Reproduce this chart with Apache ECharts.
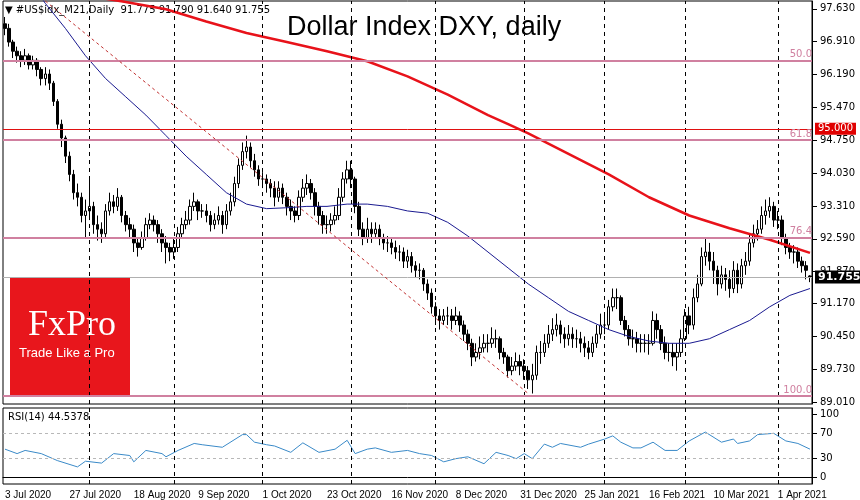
<!DOCTYPE html>
<html>
<head>
<meta charset="utf-8">
<title>DXY</title>
<script src="https://cdn.jsdelivr.net/npm/echarts@6/dist/echarts.min.js"></script>
<style>
  body { margin: 0; background: #fff; }
  #main { width: 860px; height: 500px; }
</style>
</head>
<body>
<div id="main"></div>
<script>
// daily closes, 3 Jul 2020 .. 14 Apr 2021
var closes = [
  97.2,96.9,96.7,96.6,96.5,96.6,96.4,96.5,96.3,96.1,
  96.2,96.0,95.6,95.1,94.8,94.4,94.0,93.6,93.5,93.1,
  93.2,93.3,92.9,92.8,92.7,93.2,93.4,93.3,93.5,93.1,
  92.9,92.8,92.5,92.4,92.6,92.9,93.0,92.9,92.7,92.5,
  92.4,92.3,92.4,92.7,92.9,93.0,93.3,93.4,93.2,93.2,
  93.1,92.9,93.0,93.1,92.9,93.2,93.4,93.8,94.2,94.5,
  94.6,94.3,94.1,93.9,93.9,93.8,93.7,93.5,93.7,93.5,
  93.3,93.2,93.1,93.5,93.7,93.8,93.6,93.3,93.1,92.9,
  92.9,93.0,93.1,93.5,93.9,94.1,93.9,93.3,92.8,92.6,
  92.8,92.7,92.8,92.6,92.5,92.5,92.4,92.3,92.3,92.1,
  92.2,92.0,91.9,91.9,91.6,91.4,91.1,90.9,90.8,90.9,
  90.9,90.8,90.9,90.7,90.5,90.3,90.0,90.1,90.2,90.3,
  90.3,90.4,90.4,90.1,90.0,89.7,89.8,89.9,89.8,89.7,
  89.5,89.6,90.1,90.1,90.3,90.5,90.6,90.7,90.5,90.4,
  90.5,90.4,90.4,90.3,90.2,90.1,90.3,90.5,90.7,90.7,
  91.1,91.3,91.3,90.8,90.6,90.4,90.4,90.3,90.3,90.3,
  90.3,90.8,90.6,90.3,90.1,90.1,90.0,90.1,90.4,90.9,
  90.7,91.3,91.6,92.2,92.3,92.1,91.9,91.6,91.8,91.7,
  91.5,91.9,91.6,92.0,92.1,92.5,92.7,92.8,93.1,93.2,
  93.3,93.0,93.0,92.6,92.4,92.3,92.3,92.1,92.0,91.9,
  91.755
];
var highs = [
  97.45,97.3,96.95,96.8,96.7,96.75,96.65,96.6,96.55,96.35,
  96.35,96.3,96.05,95.65,95.2,94.85,94.5,94.1,93.8,93.6,
  93.45,93.9,93.4,93.1,92.95,93.35,93.6,93.55,93.7,93.55,
  93.2,93.05,92.9,92.6,92.75,93.05,93.15,93.1,93.0,92.8,
  92.65,92.5,92.6,92.85,93.05,93.2,93.45,93.6,93.45,93.35,
  93.35,93.2,93.15,93.3,93.2,93.35,93.6,93.95,94.35,94.7,
  94.85,94.7,94.45,94.2,94.05,94.0,93.9,93.85,93.85,93.8,
  93.6,93.45,93.3,93.65,93.9,94.0,93.9,93.7,93.4,93.2,
  93.1,93.15,93.3,93.7,94.05,94.3,94.3,93.95,93.4,92.95,
  93.05,92.95,92.95,92.9,92.7,92.65,92.6,92.55,92.45,92.4,
  92.35,92.3,92.1,92.05,91.95,91.7,91.5,91.2,91.05,91.05,
  91.1,91.05,91.1,91.0,90.8,90.6,90.4,90.3,90.45,90.5,
  90.5,90.65,90.6,90.45,90.2,90.05,90.0,90.1,90.05,89.95,
  89.8,89.85,90.25,90.35,90.5,90.7,90.85,90.95,90.8,90.65,
  90.7,90.65,90.6,90.55,90.45,90.35,90.45,90.7,90.95,90.9,
  91.25,91.5,91.5,91.35,90.9,90.7,90.6,90.55,90.5,90.5,
  90.5,91.0,90.95,90.7,90.45,90.3,90.3,90.3,90.6,91.05,
  91.1,91.5,91.8,92.4,92.6,92.5,92.3,92.0,92.0,91.95,
  91.9,92.1,92.05,92.15,92.3,92.7,92.9,93.0,93.3,93.45,
  93.5,93.4,93.2,93.1,92.7,92.5,92.45,92.4,92.2,92.1,
  91.79
];
var lows = [
  97.05,96.8,96.55,96.45,96.35,96.4,96.3,96.3,96.15,95.95,
  95.95,95.85,95.5,95.0,94.6,94.25,93.85,93.45,93.3,92.95,
  92.6,93.0,92.7,92.55,92.5,92.6,93.1,93.15,93.2,92.95,
  92.75,92.6,92.3,92.2,92.35,92.55,92.8,92.75,92.5,92.3,
  92.05,92.1,92.15,92.3,92.6,92.8,92.9,93.2,93.0,93.05,
  92.95,92.75,92.8,92.9,92.7,92.8,93.1,93.3,93.7,94.1,
  94.35,94.15,93.95,93.75,93.7,93.6,93.5,93.3,93.4,93.35,
  93.1,93.0,92.95,93.0,93.4,93.55,93.45,93.1,92.9,92.7,
  92.7,92.75,92.9,93.0,93.4,93.8,93.7,93.15,92.65,92.45,
  92.5,92.5,92.6,92.45,92.35,92.3,92.25,92.15,92.1,91.95,
  91.95,91.85,91.75,91.7,91.45,91.25,90.95,90.7,90.6,90.7,
  90.7,90.6,90.7,90.55,90.35,90.15,89.8,89.9,89.95,90.1,
  90.1,90.2,90.2,89.95,89.85,89.55,89.6,89.7,89.6,89.5,
  89.3,89.2,89.5,89.85,90.0,90.2,90.35,90.45,90.3,90.2,
  90.25,90.2,90.2,90.1,90.0,89.95,90.0,90.2,90.4,90.5,
  90.6,91.0,91.05,90.7,90.45,90.25,90.2,90.1,90.1,90.1,
  90.05,90.25,90.4,90.15,89.95,89.9,89.8,89.7,90.0,90.35,
  90.5,90.6,91.2,91.55,92.0,91.9,91.6,91.35,91.5,91.45,
  91.3,91.4,91.4,91.5,91.8,92.0,92.4,92.55,92.7,92.9,
  93.05,92.85,92.8,92.45,92.25,92.15,92.05,91.95,91.85,91.7,
  91.64
];
var firstOpen = 97.3;

// moving averages, read every 5 bars
var ma200Idx = [20,25,30,40,50,60,70,80,90,100,110,120,125,130,140,150,160,170,180,190,200];
var ma200Val = [98.0,97.85,97.78,97.62,97.35,97.1,96.9,96.7,96.48,96.15,95.75,95.3,95.1,94.9,94.45,94.0,93.5,93.1,92.82,92.57,92.28];
var ma50Idx = [8,10,15,20,25,30,35,40,45,50,55,60,65,70,75,80,85,90,95,100,105,110,115,120,125,130,135,140,145,150,155,160,165,170,175,180,185,190,195,200];
var ma50Val = [98.0,97.75,97.2,96.6,96.1,95.7,95.3,94.85,94.4,94.0,93.6,93.35,93.25,93.27,93.3,93.3,93.35,93.35,93.3,93.2,93.15,92.95,92.65,92.3,91.95,91.6,91.3,91.0,90.8,90.6,90.45,90.35,90.3,90.3,90.4,90.6,90.8,91.1,91.35,91.5];

var rsiIdx = [0,3,5,9,13,18,20,24,27,31,32,35,39,40,43,47,49,54,59,60,62,65,67,71,74,78,82,85,87,90,92,96,100,103,106,109,112,115,119,122,125,127,129,131,134,136,138,143,145,149,151,153,156,158,161,164,167,170,174,178,181,182,185,187,191,194,197,200];
var rsiVal = [45,38,43,38,27,17,26,23,38,35,25,43,38,33,43,54,52,48,68,68,56,52,50,40,55,40,45,59,38,45,47,40,43,38,35,25,30,33,22,40,35,30,38,30,53,48,54,48,53,61,66,56,47,47,56,43,43,58,72,56,61,54,58,68,70,58,54,45];

var priceTicks = [89.010,89.730,90.450,91.170,91.870,92.590,93.310,94.030,94.750,95.470,96.190,96.910,97.630];
var levels = [
  { v: 96.50, label: '50.0', color: '#d080a0' },
  { v: 94.75, label: '61.8', color: '#d080a0' },
  { v: 92.61, label: '76.4', color: '#d080a0' },
  { v: 89.14, label: '100.0', color: '#d080a0' }
];

// weekday dates, holidays skipped
var dates = [];
var d = new Date(2020, 6, 3);
while (dates.length < closes.length) {
  var wd = d.getDay();
  var skip = (d.getMonth() == 11 && d.getDate() == 25) || (d.getMonth() == 0 && d.getDate() == 1);
  if (wd != 0 && wd != 6 && !skip) dates.push(new Date(d));
  d.setDate(d.getDate() + 1);
}
var months = ['Jan','Feb','Mar','Apr','May','Jun','Jul','Aug','Sep','Oct','Nov','Dec'];
var cats = dates.map(function (x) { return x.getDate() + ' ' + months[x.getMonth()] + ' ' + x.getFullYear(); });
var seps = [];
for (var i = 1; i < dates.length; i++) {
  if (dates[i].getMonth() != dates[i - 1].getMonth()) seps.push(i);
}

var ohlc = closes.map(function (c, i) {
  var o = i == 0 ? firstOpen : closes[i - 1];
  if (i == closes.length - 1) o = 91.775;
  return [o, c, lows[i], highs[i]];
});
function sparse(idx, val) {
  var arr = closes.map(function () { return null; });
  idx.forEach(function (k, j) { arr[k] = val[j]; });
  return arr;
}

var sepLine = {
  symbol: 'none', silent: true, label: { show: false },
  lineStyle: { color: '#000', type: [4, 4], width: 1 },
  data: seps.map(function (s) { return { xAxis: s - 0.5 }; })
};

var chart = echarts.init(document.getElementById('main'));
chart.setOption({
  animation: false,
  textStyle: { fontFamily: 'Tahoma, "DejaVu Sans", sans-serif' },
  grid: [
    { left: 3, right: 48, top: 1, height: 403, show: true, borderColor: '#000', borderWidth: 1 },
    { left: 3, right: 48, top: 408, height: 76, show: true, borderColor: '#000', borderWidth: 1 }
  ],
  xAxis: [
    { type: 'category', data: cats, gridIndex: 0, axisLine: { show: false }, axisTick: { show: false }, axisLabel: { show: false } },
    { type: 'category', data: cats, gridIndex: 1, axisLine: { lineStyle: { color: '#000' } },
      axisTick: { interval: function (i) { return i % 16 == 0; }, lineStyle: { color: '#000' } },
      axisLabel: { interval: function (i) { return i % 16 == 0; }, hideOverlap: false, align: 'left', margin: 6, color: '#000', fontSize: 10,
        fontFamily: '"Liberation Sans", Arial, sans-serif' } }
  ],
  yAxis: [
    { type: 'value', gridIndex: 0, position: 'right', min: 88.97, max: 97.8, splitLine: { show: false },
      axisLine: { show: true, lineStyle: { color: '#000' } },
      axisTick: { show: true, customValues: priceTicks, lineStyle: { color: '#000' } },
      axisLabel: { customValues: priceTicks, color: '#000', fontSize: 10, formatter: function (v) { return v.toFixed(3); } } },
    { type: 'value', gridIndex: 1, position: 'right', min: -10, max: 110, splitLine: { show: false },
      axisLine: { show: true, lineStyle: { color: '#000' } },
      axisTick: { show: true, customValues: [0, 30, 70, 100], lineStyle: { color: '#000' } },
      axisLabel: { customValues: [0, 30, 70, 100], color: '#000', fontSize: 10 } }
  ],
  series: [
    {
      type: 'candlestick', data: ohlc, barWidth: 3, xAxisIndex: 0, yAxisIndex: 0,
      itemStyle: { color: '#fff', color0: '#000', borderColor: '#000', borderColor0: '#000', borderWidth: 1 },
      markLine: sepLine
    },
    {
      type: 'line', data: sparse(ma200Idx, ma200Val), connectNulls: true, symbol: 'none', clip: true,
      lineStyle: { color: '#e8121a', width: 2.5 }, z: 3,
      markLine: {
        symbol: 'none', silent: true,
        data: levels.map(function (l) {
          return { yAxis: l.v, lineStyle: { color: l.color, width: 2, type: 'solid' },
            label: { show: true, formatter: l.label, position: 'insideEndTop', color: '#d080a0', fontSize: 10, distance: [0, 1] } };
        }).concat([
          { yAxis: 95.0, lineStyle: { color: '#e01010', width: 1, type: 'solid' },
            label: { show: true, position: 'end', formatter: '95.000', backgroundColor: '#e00000', color: '#fff', fontSize: 10, padding: [1, 3], distance: 3 } },
          { yAxis: 91.755, lineStyle: { color: '#b0b0b0', width: 1, type: 'solid' },
            label: { show: true, position: 'end', formatter: '91.755', backgroundColor: '#000', color: '#fff', fontSize: 11, fontWeight: 'bold', padding: [1, 3], distance: 3 } },
          [{ coord: [10, 97.8], lineStyle: { color: '#c03030', type: [3, 3], width: 1 }, label: { show: false } }, { coord: [130, 89.2] }]
        ])
      }
    },
    {
      type: 'line', data: sparse(ma50Idx, ma50Val), connectNulls: true, symbol: 'none', clip: true,
      lineStyle: { color: '#1a1a90', width: 1 }, z: 3
    },
    {
      type: 'line', data: sparse(rsiIdx, rsiVal), connectNulls: true, symbol: 'none',
      xAxisIndex: 1, yAxisIndex: 1, lineStyle: { color: '#3a8ac8', width: 1 },
      markLine: {
        symbol: 'none', silent: true, label: { show: false },
        data: [
          { yAxis: 30, lineStyle: { color: '#b8b8b8', type: [3, 3], width: 1 } },
          { yAxis: 70, lineStyle: { color: '#b8b8b8', type: [3, 3], width: 1 } }
        ].concat(sepLine.data.map(function (x) { return { xAxis: x.xAxis, lineStyle: sepLine.lineStyle }; }))
      }
    }
  ],
  graphic: [
    { type: 'text', left: 5, top: 5, style: { text: '▼ #US$idx_M21,Daily  91.775 91.790 91.640 91.755', fill: '#000', font: '10px Tahoma, "DejaVu Sans", sans-serif' } },
    { type: 'text', left: 287, top: 14, style: { text: 'Dollar Index DXY, daily', fill: '#000', font: '27px "Liberation Sans", Arial, sans-serif' } },
    { type: 'text', left: 8, top: 412, style: { text: 'RSI(14) 44.5378', fill: '#000', font: '10px Tahoma, "DejaVu Sans", sans-serif' } },
    { type: 'rect', shape: { x: 10, y: 277, width: 120, height: 120 }, style: { fill: '#e8161c' } },
    { type: 'text', left: 28, top: 308, style: { text: 'FxPro', fill: '#fff', font: '36px "Liberation Serif", "DejaVu Serif", serif' } },
    { type: 'text', left: 19, top: 347, style: { text: 'Trade Like a Pro', fill: '#fff', font: '13px Arial, "Liberation Sans", sans-serif' } }
  ]
});
</script>
</body>
</html>
